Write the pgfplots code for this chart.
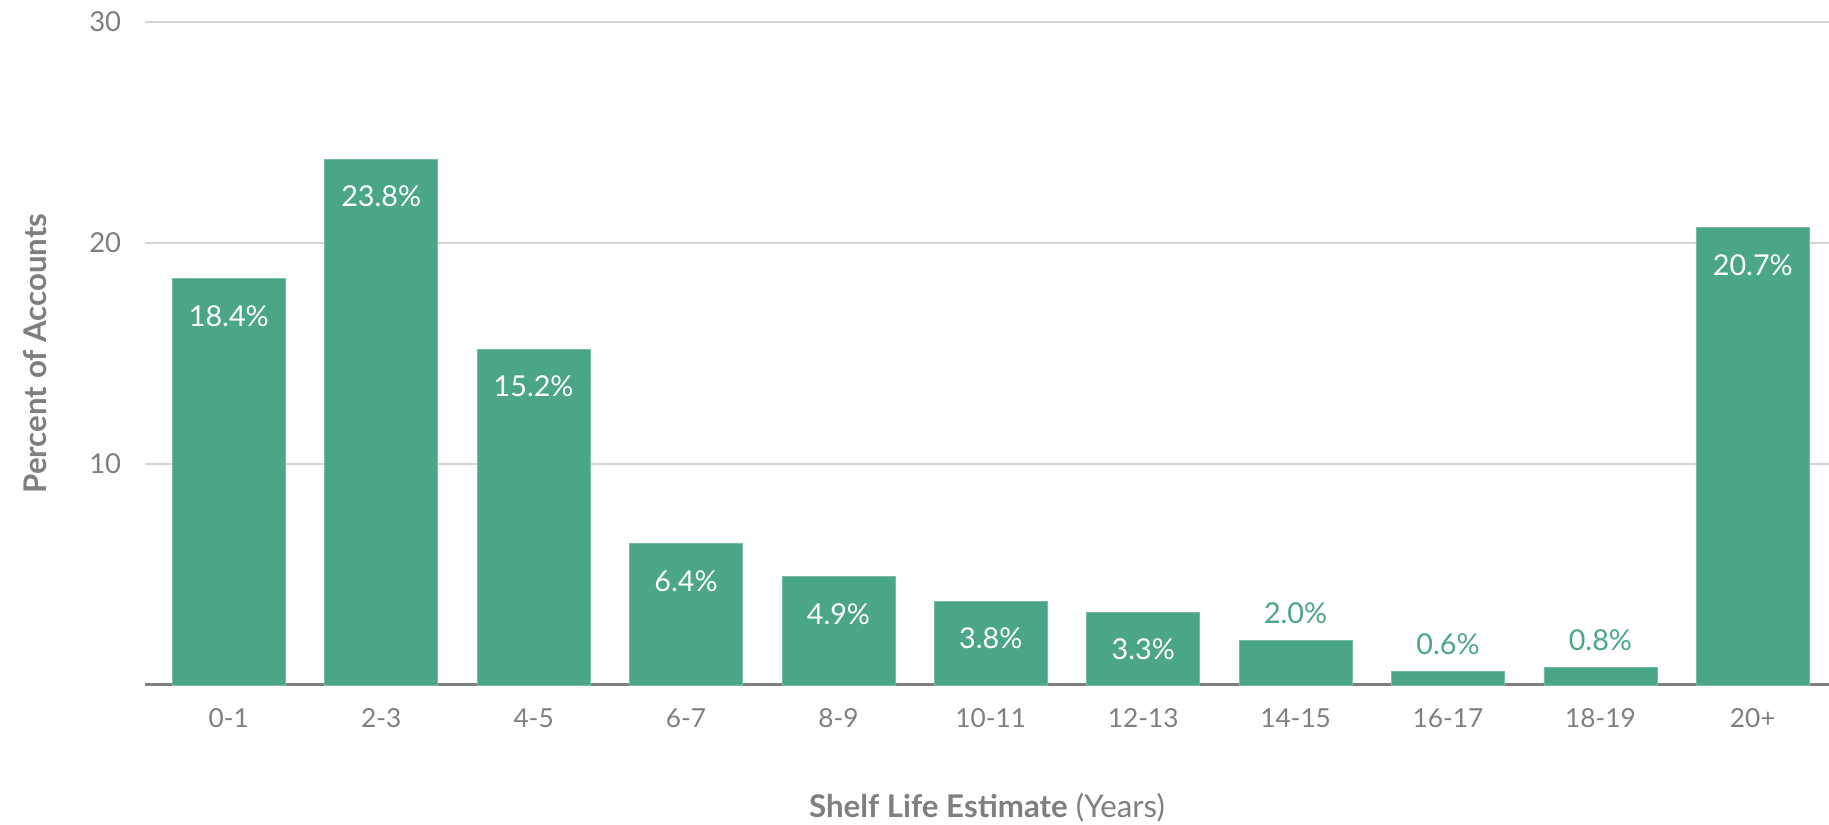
\documentclass[border=0pt]{standalone}
\usepackage{pgfplots}
\pgfplotsset{compat=1.18}
\usepackage{pgfplotstable}
\usepackage{fontspec}
\setmainfont{Lato}

\definecolor{bargreen}{HTML}{4AA687}
\definecolor{txtgray}{HTML}{7F7F7F}
\definecolor{gridgray}{HTML}{D4D4D4}
\definecolor{axisgray}{HTML}{808080}

% share of accounts by estimated shelf life
\pgfplotstableread{
x  y
0  18.4
1  23.8
2  15.2
3  6.4
4  4.9
5  3.8
6  3.3
7  2.0
8  0.6
9  0.8
10 20.7
}\shelf

\begin{document}
\begin{tikzpicture}[font=\fontsize{10.5}{12}\selectfont]
\begin{axis}[
  name=ax,
  scale only axis,
  width=673.6pt, height=265.2pt,
  xmin=-0.55, xmax=10.5,
  ymin=0, ymax=30,
  axis x line*=bottom,
  axis y line*=left,
  x axis line style={axisgray, line width=1.2pt, -},
  y axis line style={draw=none},
  xtick={0,...,10},
  xticklabels={0-1,2-3,4-5,6-7,8-9,10-11,12-13,14-15,16-17,18-19,20+},
  major tick length=0pt,
  ytick={10,20,30},
  ymajorgrids,
  major grid style={gridgray, line width=0.6pt},
  /pgf/number format/assume math mode=true,
  xticklabel style={txtgray, yshift=-6pt},
  yticklabel style={txtgray, xshift=-6pt, font=\fontsize{11}{12}\selectfont},
  xlabel={\textbf{Shelf Life Estimate} (Years)},
  ylabel={\textbf{Percent of Accounts}},
  every axis x label/.style={at={(axis description cs:0.5,0)}, anchor=center, yshift=-49pt, txtgray, font=\fontsize{12.5}{14}\selectfont},
  every axis y label/.style={at={(axis description cs:0,0.5)}, anchor=center, rotate=90, yshift=44pt, txtgray, font=\fontsize{12.5}{14}\selectfont},
  clip=false,
]
\addplot[ybar, bar width=45.2pt, fill=bargreen, draw=bargreen!75!white, line width=0.3pt] table[x=x, y=y]{\shelf};
% values printed inside the taller bars
\addplot[draw=none, mark=none, restrict y to domain=3:100,
  nodes near coords={\pgfmathprintnumber[fixed, fixed zerofill, precision=1]{\pgfplotspointmeta}\%},
  nodes near coords style={white, anchor=center, yshift=-15pt, font=\fontsize{11.5}{13}\selectfont}]
  table[x=x, y=y]{\shelf};
% values printed above the short bars
\addplot[draw=none, mark=none, restrict y to domain=0:2.9,
  nodes near coords={\pgfmathprintnumber[fixed, fixed zerofill, precision=1]{\pgfplotspointmeta}\%},
  nodes near coords style={bargreen, anchor=center, yshift=11pt, font=\fontsize{11.5}{13}\selectfont}]
  table[x=x, y=y]{\shelf};
\end{axis}
\pgfresetboundingbox
\path[use as bounding box] ([xshift=-58pt, yshift=-56pt]ax.south west) rectangle ([yshift=8.8pt]ax.north east);
\end{tikzpicture}
\end{document}
